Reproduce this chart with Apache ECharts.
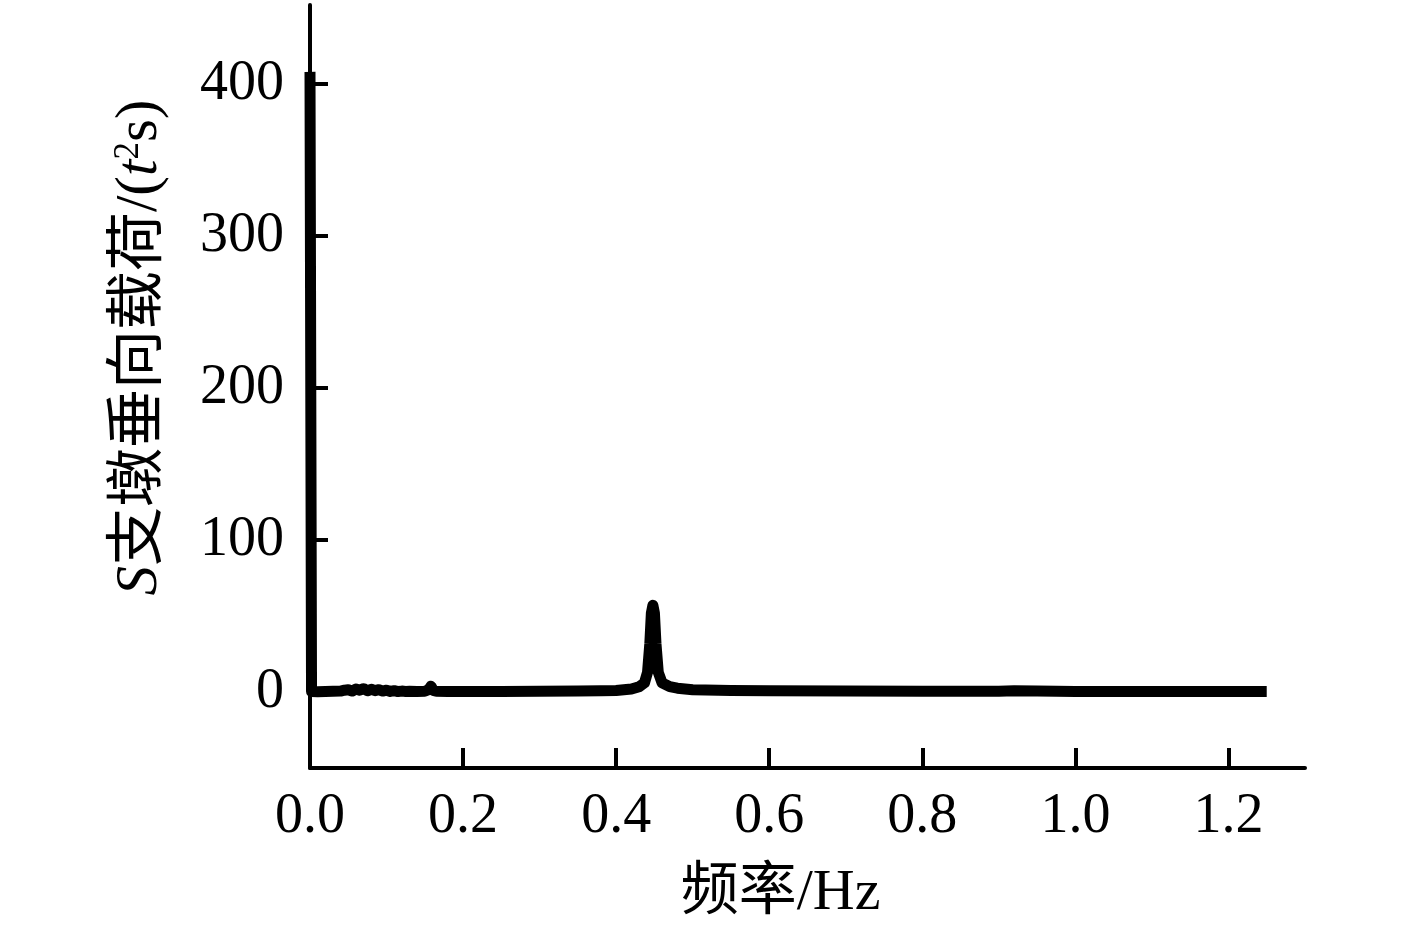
<!DOCTYPE html>
<html>
<head>
<meta charset="utf-8">
<script src="https://cdn.jsdelivr.net/npm/echarts@6/dist/echarts.min.js"></script>
<style>
  html, body { margin: 0; padding: 0; background: #fff; }
  #chart { width: 1417px; height: 925px; }
</style>
</head>
<body>
<div id="chart"></div>
<script>
// frequency (Hz) and spectrum values
var freq = [0, 0.002, 0.01, 0.02, 0.03, 0.04, 0.045, 0.05, 0.055, 0.06, 0.065, 0.07, 0.075, 0.08,
  0.085, 0.09, 0.095, 0.1, 0.105, 0.11, 0.115, 0.12, 0.125, 0.13, 0.14, 0.15, 0.155, 0.158,
  0.161, 0.165, 0.18, 0.2, 0.25, 0.3, 0.35, 0.38, 0.4, 0.42, 0.43, 0.437, 0.441, 0.444, 0.446,
  0.448, 0.45, 0.452, 0.455, 0.46, 0.47, 0.48, 0.5, 0.55, 0.6, 0.7, 0.8, 0.9, 0.92, 0.95,
  1.0, 1.1, 1.2, 1.25]
var load = [408, 0.3, 0.2, 0.4, 0.5, 0.6, 1.2, 1.5, 0.6, 2.0, 1.2, 2.2, 0.8, 1.8,
  0.9, 1.5, 0.6, 1.2, 0.4, 0.9, 0.3, 0.6, 0.4, 0.5, 0.4, 0.5, 1.5, 3.8,
  1.0, 0.5, 0.4, 0.4, 0.4, 0.5, 0.6, 0.8, 1.0, 2.0, 3.5, 6, 13, 32, 52,
  57, 52, 32, 13, 6, 3.5, 2.5, 1.5, 1.0, 0.8, 0.6, 0.5, 0.5, 0.9, 0.6,
  0.4, 0.3, 0.3, 0.3]
var xTicks = [0, 0.2, 0.4, 0.6, 0.8, 1.0, 1.2]
var yTicks = [0, 100, 200, 300, 400]

var serif = 'Liberation Serif, Noto Sans CJK SC'

var chart = echarts.init(document.getElementById('chart'))
chart.setOption({
  backgroundColor: '#fff',
  animation: false,
  grid: { left: 310, right: 112, top: 5, bottom: 157, outerBoundsMode: 'none' },
  xAxis: {
    type: 'value',
    min: 0,
    max: 1.3,
    name: '频率/Hz',
    nameLocation: 'middle',
    nameGap: 97,
    nameTextStyle: { color: '#000', fontSize: 58, fontFamily: serif, padding: [0, 54, 0, 0] },
    axisLine: { onZero: false, lineStyle: { color: '#000', width: 4 } },
    axisTick: { inside: true, length: 20, lineStyle: { color: '#000', width: 4 }, customValues: xTicks },
    axisLabel: {
      color: '#000', fontSize: 56, fontFamily: serif, margin: 21,
      customValues: xTicks,
      formatter: function (v) { return v.toFixed(1) }
    },
    splitLine: { show: false }
  },
  yAxis: {
    type: 'value',
    min: -50,
    max: 452,
    name: '{i|S}支墩垂向载荷/({i|t}{sup|2}s)',
    nameLocation: 'middle',
    nameGap: 140,
    nameTextStyle: {
      color: '#000', fontSize: 59, fontFamily: serif,
      padding: [0, 0, 0, 78],
      rich: {
        i: { fontSize: 59, fontStyle: 'italic', fontFamily: 'Liberation Serif', color: '#000' },
        sup: { fontSize: 35, fontFamily: 'Liberation Serif', color: '#000', verticalAlign: 'top', padding: [0, 0, 22, 0] }
      }
    },
    axisLine: { onZero: false, lineStyle: { color: '#000', width: 4 } },
    axisTick: { inside: true, length: 18, lineStyle: { color: '#000', width: 4 }, customValues: yTicks },
    axisLabel: { color: '#000', fontSize: 56, fontFamily: serif, margin: 26, customValues: yTicks },
    splitLine: { show: false }
  },
  series: [{
    type: 'line',
    data: freq.map(function (f, i) { return [f, load[i]] }),
    showSymbol: false,
    lineStyle: { color: '#000', width: 11, join: 'round' }
  }]
})
</script>
</body>
</html>
